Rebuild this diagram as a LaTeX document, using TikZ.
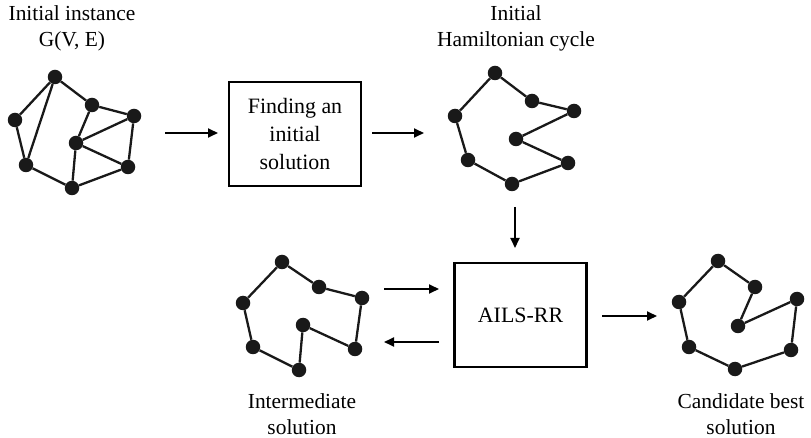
\documentclass[tikz,border=0pt]{standalone}
\usepackage{fontspec}
\setmainfont{Liberation Serif}
\usetikzlibrary{arrows.meta}
\begin{document}
\begin{tikzpicture}[x=1bp,y=-1bp,
  dot/.style={circle,fill=black!90,inner sep=0pt,minimum size=14.5bp},
  edge/.style={line width=2.3bp,black!90},
  procbox/.style={draw,line width=2.3bp,minimum width=132bp,minimum height=104bp,
    align=center,font=\fontsize{22}{28}\selectfont,inner sep=0pt},
  arr/.style={line width=1.8bp,-{Triangle[length=10bp,width=9bp]}},
  lbl/.style={anchor=base,font=\fontsize{21.5}{26}\selectfont,inner sep=0pt}]
\useasboundingbox (0,0) rectangle (811,438);

% --- initial instance G(V,E)
\node[dot] (g1) at (55,77) {};
\node[dot] (g2) at (15,120) {};
\node[dot] (g3) at (26,165) {};
\node[dot] (g4) at (72,188) {};
\node[dot] (g5) at (128,167) {};
\node[dot] (g6) at (76,143) {};
\node[dot] (g7) at (92,105) {};
\node[dot] (g8) at (134,116) {};
\foreach \a/\b in {g1/g2,g1/g3,g1/g7,g2/g3,g3/g4,g4/g6,g4/g5,g6/g7,g6/g8,g6/g5,g7/g8,g8/g5}
  \draw[edge] (\a) -- (\b);

% --- initial Hamiltonian cycle
\node[dot] (h1) at (495,73) {};
\node[dot] (h2) at (532,101) {};
\node[dot] (h3) at (574,111) {};
\node[dot] (h4) at (516,139) {};
\node[dot] (h5) at (568,163) {};
\node[dot] (h6) at (512,184) {};
\node[dot] (h7) at (468,160) {};
\node[dot] (h8) at (455,116) {};
\draw[edge] (h1) -- (h2) -- (h3) -- (h4) -- (h5) -- (h6) -- (h7) -- (h8) -- (h1);

% --- intermediate solution
\node[dot] (m1) at (282,262) {};
\node[dot] (m2) at (319,287) {};
\node[dot] (m3) at (362,298) {};
\node[dot] (m4) at (355,349) {};
\node[dot] (m5) at (303,325) {};
\node[dot] (m6) at (299,370) {};
\node[dot] (m7) at (253,347) {};
\node[dot] (m8) at (243,303) {};
\draw[edge] (m1) -- (m2) -- (m3) -- (m4) -- (m5) -- (m6) -- (m7) -- (m8) -- (m1);

% --- candidate best solution
\node[dot] (c1) at (718,261) {};
\node[dot] (c2) at (755,287) {};
\node[dot] (c3) at (738,326) {};
\node[dot] (c4) at (797,299) {};
\node[dot] (c5) at (791,350) {};
\node[dot] (c6) at (735,369) {};
\node[dot] (c7) at (689,347) {};
\node[dot] (c8) at (679,302) {};
\draw[edge] (c1) -- (c2) -- (c3) -- (c4) -- (c5) -- (c6) -- (c7) -- (c8) -- (c1);

% --- process boxes
\node[procbox] (init) at (295,134) {Finding an\\initial\\solution};
\node[procbox] (ails) at (520.5,315) {AILS-RR};

% --- arrow end points
\coordinate (p1) at (165,133);
\coordinate (p2) at (218,133);
\coordinate (p3) at (372,133);
\coordinate (p4) at (424,133);
\coordinate (p5) at (515,207);
\coordinate (p6) at (515,248);
\coordinate (p7) at (384,289);
\coordinate (p8) at (439,289);
\coordinate (p9) at (439,342);
\coordinate (p10) at (384,342);
\coordinate (p11) at (602,316);
\coordinate (p12) at (657,316);

\draw[arr] (p1) -- (p2);
\draw[arr] (p3) -- (p4);
\draw[arr] (p5) -- (p6);
\draw[arr] (p7) -- (p8);
\draw[arr] (p9) -- (p10);
\draw[arr] (p11) -- (p12);

% --- captions
\node[lbl] (t1) at (72,21) {Initial instance};
\node[lbl] (t2) at (72,47) {G(V, E)};
\node[lbl] (t3) at (516,21) {Initial};
\node[lbl] (t4) at (516,47) {Hamiltonian cycle};
\node[lbl] (t5) at (302,408) {Intermediate};
\node[lbl] (t6) at (302,434) {solution};
\node[lbl] (t7) at (741,408) {Candidate best};
\node[lbl] (t8) at (741,434) {solution};
\end{tikzpicture}
\end{document}
